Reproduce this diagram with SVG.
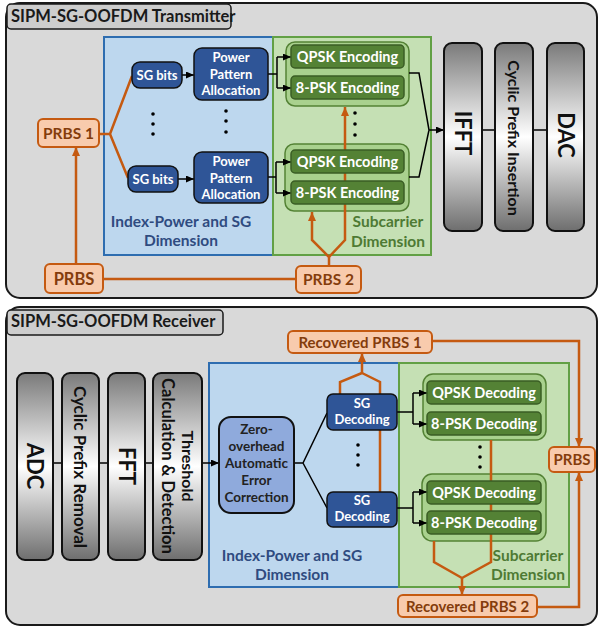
<svg xmlns="http://www.w3.org/2000/svg" width="599" height="628" viewBox="0 0 599 628">
<style>
text{font-family:Lato,"Liberation Sans",sans-serif;font-weight:bold}
.panel{fill:#d9d9d9;stroke:#1a1a1a;stroke-width:2}
.tab{fill:#cdcdcd;stroke:#1a1a1a;stroke-width:1.5}
.tabt{font-size:16.5px;fill:#1a1a1a}
.blue{fill:#bdd7ee;stroke:#2e6db0;stroke-width:2}
.green{fill:#c5e0b4;stroke:#62a045;stroke-width:2}
.grp{fill:#a9d18e;stroke:#548235;stroke-width:1.5}
.gbox{fill:#548235;stroke:#3a5d24;stroke-width:1.5}
.bbox{fill:#2f5597;stroke:#111;stroke-width:1.5}
.zbox{fill:#8faadc;stroke:#111;stroke-width:2}
.obox{fill:#f8cbad;stroke:#c55a11;stroke-width:2}
.blk{fill:url(#gr);stroke:#111;stroke-width:2}
.wt{font-size:13px;fill:#fff;text-anchor:middle}
.gt{font-size:14.5px;fill:#fff;text-anchor:middle}
.zt{font-size:13.5px;fill:#222;text-anchor:middle}
.ot{font-size:15px;fill:#843c0c;text-anchor:middle}
.vt{fill:#111;text-anchor:middle}
.bl{font-size:15.5px;fill:#2f4b80;text-anchor:middle}
.gl{font-size:15.5px;fill:#4e7a34;text-anchor:middle}
.ol{fill:none;stroke:#c55a11;stroke-width:2.5}
.kl{fill:none;stroke:#000;stroke-width:1.5}
.dot{fill:#000}
</style>
<defs>
<linearGradient id="gr" x1="0" y1="0" x2="0" y2="1">
<stop offset="0" stop-color="#7a7a7a"/>
<stop offset="0.5" stop-color="#ffffff"/>
<stop offset="1" stop-color="#6e6e6e"/>
</linearGradient>
<marker id="ak" markerUnits="userSpaceOnUse" markerWidth="8" markerHeight="7" refX="8" refY="3.5" orient="auto"><path d="M0,0 L8,3.5 L0,7 z" fill="#000"/></marker>
<marker id="ao" markerUnits="userSpaceOnUse" markerWidth="9" markerHeight="8" refX="9" refY="4" orient="auto"><path d="M0,0 L9,4 L0,8 z" fill="#c55a11"/></marker>
</defs>

<!-- Panels and regions -->
<g id="transmitter-panel">
<rect class="panel" x="6" y="3" width="591" height="295" rx="14"/>
<rect class="tab" x="7" y="4" width="224" height="25" rx="4"/>
<text class="tabt" x="11" y="22">SIPM-SG-OOFDM Transmitter</text>
</g>
<g id="tx-index-power-region">
<rect class="blue" x="104" y="37" width="169" height="218"/>
<text class="bl" x="181" y="227">Index-Power and SG</text>
<text class="bl" x="181" y="246">Dimension</text>
</g>
<g id="tx-subcarrier-region">
<rect class="green" x="273" y="37" width="158" height="218"/>
<text class="gl" x="388" y="227">Subcarrier</text>
<text class="gl" x="388" y="247">Dimension</text>
</g>
<g id="receiver-panel">
<rect class="panel" x="6" y="307" width="591" height="318" rx="14"/>
<rect class="tab" x="7" y="310" width="216" height="25" rx="4"/>
<text class="tabt" x="11" y="327">SIPM-SG-OOFDM Receiver</text>
</g>
<g id="rx-index-power-region">
<rect class="blue" x="209" y="363" width="190" height="224"/>
<text class="bl" x="292" y="561">Index-Power and SG</text>
<text class="bl" x="292" y="580">Dimension</text>
</g>
<g id="rx-subcarrier-region">
<rect class="green" x="399" y="363" width="170" height="224"/>
<text class="gl" x="528" y="561">Subcarrier</text>
<text class="gl" x="528" y="580">Dimension</text>
</g>

<!-- Group containers -->
<g id="enc-group-1"><rect class="grp" x="286" y="42" width="123" height="64" rx="9"/></g>
<g id="enc-group-2"><rect class="grp" x="285" y="144" width="124" height="67" rx="9"/></g>
<g id="dec-group-1"><rect class="grp" x="423" y="374" width="123" height="66" rx="10"/></g>
<g id="dec-group-2"><rect class="grp" x="422" y="474" width="124" height="67" rx="10"/></g>

<!-- Connectors -->
<g id="connectors">
<path class="ol" d="M99,134 H110 L132,76 M110,134 L128,178"/>
<path class="ol" d="M76,264 V147" marker-end="url(#ao)"/>
<path class="ol" d="M103,279 H296"/>
<path class="ol" d="M329,266 V257 L312,240 V212" marker-end="url(#ao)"/>
<path class="ol" d="M329,257 L345,240 V107" marker-end="url(#ao)"/>
<path class="kl" d="M182,75 H194" marker-end="url(#ak)"/>
<path class="kl" d="M178,179 H194" marker-end="url(#ak)"/>
<path class="kl" d="M268,74 H277 M277,57 V88"/>
<path class="kl" d="M277,57 H291" marker-end="url(#ak)"/>
<path class="kl" d="M277,88 H291" marker-end="url(#ak)"/>
<path class="kl" d="M268,177 H276 M276,162 V193"/>
<path class="kl" d="M276,162 H291" marker-end="url(#ak)"/>
<path class="kl" d="M276,193 H291" marker-end="url(#ak)"/>
<path class="kl" d="M409,73 H419 L429,130 M409,177 H419 L429,130"/>
<path class="kl" d="M429,130 H444" marker-end="url(#ak)"/>
<path class="kl" d="M482,130 H495 M533,130 H547"/>

<path class="kl" d="M53,463 H62 M99,463 H108 M145,463 H153"/>
<path class="kl" d="M202,463 H219" marker-end="url(#ak)"/>
<path class="kl" d="M294,463 H303 L327,413 M303,463 L327,508"/>
<path class="kl" d="M397,412 H413 M413,393 V424"/>
<path class="kl" d="M413,393 H427" marker-end="url(#ak)"/>
<path class="kl" d="M413,424 H427" marker-end="url(#ak)"/>
<path class="kl" d="M397,508 H413 M413,492 V523"/>
<path class="kl" d="M413,492 H427" marker-end="url(#ak)"/>
<path class="kl" d="M413,523 H427" marker-end="url(#ak)"/>
<path class="ol" d="M340,394 V382 L362,373 M380,493 V382 L362,373"/>
<path class="ol" d="M362,373 V353" marker-end="url(#ao)"/>
<path class="ol" d="M432,341 H579 V447" marker-end="url(#ao)"/>
<path class="ol" d="M537,607 H579 V472" marker-end="url(#ao)"/>
<path class="ol" d="M434,541 V562 L462,578 M491,440 V562 L462,578"/>
<path class="ol" d="M462,578 V595" marker-end="url(#ao)"/>
</g>

<g id="ellipses">
<circle class="dot" cx="153" cy="114" r="1.8"/><circle class="dot" cx="153" cy="124" r="1.8"/><circle class="dot" cx="153" cy="134" r="1.8"/>
<circle class="dot" cx="226" cy="111" r="1.8"/><circle class="dot" cx="226" cy="121" r="1.8"/><circle class="dot" cx="226" cy="132" r="1.8"/>
<circle class="dot" cx="355" cy="113" r="1.8"/><circle class="dot" cx="355" cy="124" r="1.8"/><circle class="dot" cx="355" cy="135" r="1.8"/>
<circle class="dot" cx="358" cy="445" r="1.8"/><circle class="dot" cx="358" cy="455" r="1.8"/><circle class="dot" cx="358" cy="465" r="1.8"/>
<circle class="dot" cx="480" cy="447" r="1.8"/><circle class="dot" cx="480" cy="457" r="1.8"/><circle class="dot" cx="480" cy="467" r="1.8"/>
</g>

<!-- Transmitter nodes -->
<g id="prbs1"><rect class="obox" x="38" y="119" width="61" height="28" rx="5"/><text class="ot" x="68.5" y="138.5" style="font-size:15.5px">PRBS 1</text></g>
<g id="prbs-tx"><rect class="obox" x="45" y="264" width="58" height="29" rx="5"/><text class="ot" x="74" y="284.5" style="font-size:16.5px">PRBS</text></g>
<g id="prbs2"><rect class="obox" x="296" y="266" width="65" height="27" rx="5"/><text class="ot" x="328.5" y="285" style="font-size:15.5px">PRBS 2</text></g>
<g id="sg-bits-1"><rect class="bbox" x="132" y="62" width="50" height="26" rx="8"/><text class="wt" x="157" y="79.5">SG bits</text></g>
<g id="sg-bits-2"><rect class="bbox" x="128" y="166" width="50" height="26" rx="8"/><text class="wt" x="153" y="183.5">SG bits</text></g>
<g id="ppa-1"><rect class="bbox" x="194" y="48" width="74" height="52" rx="8"/><text class="wt" x="231" y="62">Power</text><text class="wt" x="231" y="78.5">Pattern</text><text class="wt" x="231" y="95">Allocation</text></g>
<g id="ppa-2"><rect class="bbox" x="194" y="152" width="74" height="51" rx="8"/><text class="wt" x="231" y="166">Power</text><text class="wt" x="231" y="182.5">Pattern</text><text class="wt" x="231" y="199">Allocation</text></g>
<g id="qpsk-enc-1"><rect class="gbox" x="291" y="45" width="113" height="23" rx="4"/><text class="gt" x="347.5" y="61.5">QPSK Encoding</text></g>
<g id="8psk-enc-1"><rect class="gbox" x="291" y="76" width="113" height="23" rx="4"/><text class="gt" x="347.5" y="92.5">8-PSK Encoding</text></g>
<g id="qpsk-enc-2"><rect class="gbox" x="291" y="150" width="113" height="23" rx="4"/><text class="gt" x="347.5" y="166.5">QPSK Encoding</text></g>
<g id="8psk-enc-2"><rect class="gbox" x="291" y="181" width="113" height="23" rx="4"/><text class="gt" x="347.5" y="197.5">8-PSK Encoding</text></g>
<g id="ifft"><rect class="blk" x="444" y="43" width="38" height="188" rx="8"/><text class="vt" transform="translate(463,133) rotate(90)" dy="0.36em" style="font-size:22px">IFFT</text></g>
<g id="cp-insertion"><rect class="blk" x="495" y="43" width="38" height="188" rx="8"/><text class="vt" transform="translate(514,138) rotate(90)" dy="0.36em" style="font-size:16px">Cyclic Prefix Insertion</text></g>
<g id="dac"><rect class="blk" x="547" y="43" width="37" height="188" rx="8"/><text class="vt" transform="translate(565.5,135) rotate(90)" dy="0.36em" style="font-size:22px">DAC</text></g>

<!-- Receiver nodes -->
<g id="adc"><rect class="blk" x="17" y="373" width="36" height="187" rx="8"/><text class="vt" transform="translate(35,466) rotate(90)" dy="0.36em" style="font-size:22px">ADC</text></g>
<g id="cp-removal"><rect class="blk" x="62" y="373" width="37" height="187" rx="8"/><text class="vt" transform="translate(80.5,467) rotate(90)" dy="0.36em" style="font-size:17px">Cyclic Prefix Removal</text></g>
<g id="fft"><rect class="blk" x="108" y="373" width="37" height="187" rx="8"/><text class="vt" transform="translate(126.5,466) rotate(90)" dy="0.36em" style="font-size:22px">FFT</text></g>
<g id="threshold"><rect class="blk" x="153" y="373" width="49" height="187" rx="8"/><text class="vt" transform="translate(188,466) rotate(90)" dy="0.36em" style="font-size:16px">Threshold</text><text class="vt" transform="translate(168,466) rotate(90)" dy="0.36em" style="font-size:16.5px">Calculation &amp; Detection</text></g>
<g id="zero-overhead-aec"><rect class="zbox" x="219" y="417" width="75" height="96" rx="12"/><text class="zt" x="256.5" y="434">Zero-</text><text class="zt" x="256.5" y="451">overhead</text><text class="zt" x="256.5" y="468">Automatic</text><text class="zt" x="256.5" y="485">Error</text><text class="zt" x="256.5" y="502">Correction</text></g>
<g id="sg-decoding-1"><rect class="bbox" x="327" y="394" width="70" height="36" rx="6"/><text class="wt" x="362" y="408">SG</text><text class="wt" x="362" y="424">Decoding</text></g>
<g id="sg-decoding-2"><rect class="bbox" x="327" y="492" width="70" height="35" rx="6"/><text class="wt" x="362" y="505">SG</text><text class="wt" x="362" y="521">Decoding</text></g>
<g id="qpsk-dec-1"><rect class="gbox" x="427" y="381" width="114" height="23" rx="4"/><text class="gt" x="484" y="397.5">QPSK Decoding</text></g>
<g id="8psk-dec-1"><rect class="gbox" x="427" y="412" width="114" height="23" rx="4"/><text class="gt" x="484" y="428.5">8-PSK Decoding</text></g>
<g id="qpsk-dec-2"><rect class="gbox" x="427" y="481" width="114" height="23" rx="4"/><text class="gt" x="484" y="497.5">QPSK Decoding</text></g>
<g id="8psk-dec-2"><rect class="gbox" x="427" y="511" width="114" height="23" rx="4"/><text class="gt" x="484" y="527.5">8-PSK Decoding</text></g>
<g id="recovered-prbs1"><rect class="obox" x="288" y="331" width="144" height="22" rx="5"/><text class="ot" x="360" y="347.5">Recovered PRBS 1</text></g>
<g id="prbs-rx"><rect class="obox" x="549" y="447" width="46" height="25" rx="5"/><text class="ot" x="572" y="465">PRBS</text></g>
<g id="recovered-prbs2"><rect class="obox" x="398" y="595" width="139" height="22" rx="5"/><text class="ot" x="467.5" y="611.5">Recovered PRBS 2</text></g>
</svg>
